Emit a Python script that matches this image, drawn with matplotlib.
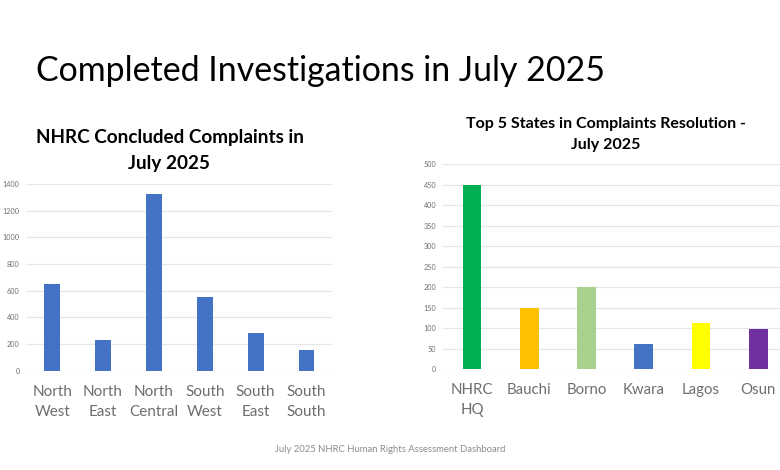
import matplotlib
matplotlib.use("Agg")
import matplotlib.pyplot as plt

plt.rcParams['font.family'] = ['Lato', 'DejaVu Sans']

# left chart
regions = ['North\nWest', 'North\nEast', 'North\nCentral', 'South\nWest', 'South\nEast', 'South\nSouth']
region_values = [650, 230, 1325, 550, 285, 155]
region_ticks = [0, 200, 400, 600, 800, 1000, 1200, 1400]

# right chart
states = ['NHRC\nHQ', 'Bauchi', 'Borno', 'Kwara', 'Lagos', 'Osun']
state_values = [450, 150, 200, 60, 113, 98]
state_colors = ['#00B050', '#FFC000', '#A9D18E', '#4472C4', '#FFFF00', '#7030A0']
state_ticks = [0, 50, 100, 150, 200, 250, 300, 350, 400, 450, 500]

W, H = 780, 470
fig = plt.figure(figsize=(W / 100, H / 100), dpi=100, facecolor='white')


def make_axes(left, right, top, bottom):
    # pixel box to figure fractions
    return fig.add_axes([left / W, 1 - bottom / H, (right - left) / W, (bottom - top) / H])


def style(ax, labels, ticks, ymax, label_size):
    ax.set_xlim(-0.5, 5.5)
    ax.set_ylim(0, ymax)
    ax.set_xticks(range(6))
    ax.set_xticklabels(labels, fontsize=label_size, color='#6E6E6E', linespacing=1.6)
    ax.set_yticks(ticks)
    ax.tick_params(axis='y', labelsize=5.2, labelcolor='#707070', length=0, pad=5)
    ax.tick_params(axis='x', length=0, pad=10)
    ax.grid(axis='y', color='#E6E6E6', linewidth=0.9)
    ax.set_axisbelow(True)
    for s in ax.spines.values():
        s.set_visible(False)


ax1 = make_axes(26.7, 332, 184, 370.7)
ax1.bar(range(6), region_values, width=0.31, color='#4472C4')
style(ax1, regions, region_ticks, 1400, 11)

ax2 = make_axes(443.3, 787, 164.3, 369)
ax2.bar(range(6), state_values, width=0.326, color=state_colors)
style(ax2, states, state_ticks, 500, 10.8)

fig.text(36 / W, 1 - 71 / H, 'Completed Investigations in July 2025', fontsize=24.4,
         va='center', ha='left', color='black')
fig.text(169.5 / W, 1 - 150.5 / H, 'NHRC Concluded Complaints in\nJuly 2025', fontsize=13.6,
         fontweight='bold', ha='center', va='center', linespacing=1.6, color='black')
fig.text(606 / W, 1 - 134.5 / H, 'Top 5 States in Complaints Resolution -\nJuly 2025', fontsize=11.5,
         fontweight='bold', ha='center', va='center', linespacing=1.6, color='black')
fig.text(390.5 / W, 1 - 449 / H, 'July 2025 NHRC Human Rights Assessment Dashboard', fontsize=6.85,
         ha='center', va='center', color='#8C8C8C')

fig.savefig('out.png', dpi=100)
